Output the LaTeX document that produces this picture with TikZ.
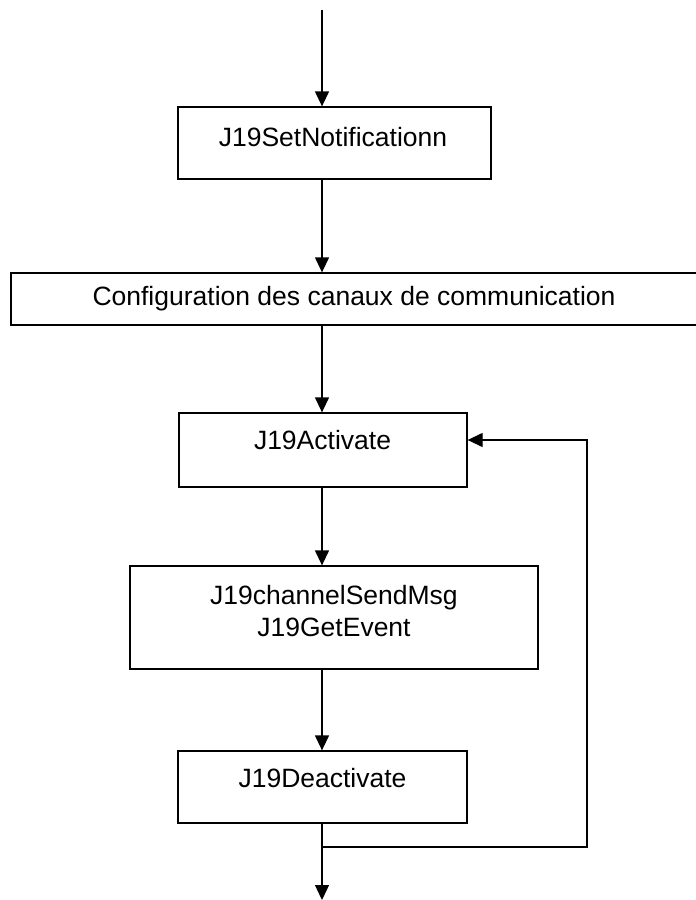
\documentclass[tikz,border=0pt]{standalone}
\usepackage{fontspec}
\setmainfont{Liberation Sans}
\usetikzlibrary{arrows.meta}

\tikzset{
  box/.style={draw, line width=1.3pt, minimum width=#1, inner sep=0pt},
  lbl/.style={font=\fontsize{26.5}{31.5}\selectfont, align=center, inner sep=0pt},
  flow/.style={line width=1.3pt, -{Triangle[width=14pt,length=15pt]}}
}

\begin{document}
\begin{tikzpicture}[x=1pt,y=-1pt]
  \useasboundingbox (0,0) rectangle (696,900);

  % Boxes (drawn as empty nodes, texts placed on top)
  \node[box=313pt, minimum height=72pt]  (notif)  at (334.5,143) {};
  \node[box=687pt, minimum height=52pt]  (config) at (354.5,299) {};
  \node[box=288pt, minimum height=74pt]  (act)    at (323,450) {};
  \node[box=408pt, minimum height=103pt] (send)   at (334,617.5) {};
  \node[box=289pt, minimum height=72pt]  (deact)  at (322.5,787) {};

  % Texts
  \node[lbl] (notiftxt)  at (333,137) {J19SetNotificationn};
  \node[lbl] (configtxt) at (354,299) {Configuration des canaux de communication};
  \node[lbl] (acttxt)    at (322.5,440) {J19Activate};
  \node[lbl] (sendtxt)   at (334,611) {J19channelSendMsg\\J19GetEvent};
  \node[lbl] (deacttxt)  at (322.5,778) {J19Deactivate};

  % Main flow, always on x = 322
  \coordinate (top) at (322,10);
  \coordinate (bottom) at (322,900);
  \draw[flow] (top) -- (top |- notif.north);
  \draw[flow] (top |- notif.south) -- (top |- config.north);
  \draw[flow] (top |- config.south) -- (act.north -| top);
  \draw[flow] (act.south -| top) -- (top |- send.north);
  \draw[flow] (top |- send.south) -- (deact.north -| top);
  \draw[flow] (deact.south -| top) -- (bottom);

  % Loop back to J19Activate
  \coordinate (loopstart) at (322,847);
  \coordinate (loopcorner) at (587,847);
  \draw[flow] (loopstart) -- (loopcorner) |- (act.east |- acttxt);

\end{tikzpicture}
\end{document}
